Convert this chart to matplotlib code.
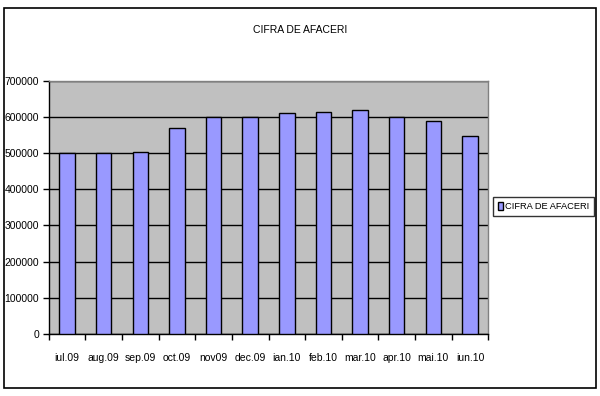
import matplotlib
matplotlib.use("Agg")
import matplotlib.pyplot as plt
import matplotlib.patches as mpatches

plt.rcParams['font.family'] = ['Liberation Sans', 'DejaVu Sans']

months = ["iul.09", "aug.09", "sep.09", "oct.09", "nov09", "dec.09",
          "ian.10", "feb.10", "mar.10", "apr.10", "mai.10", "iun.10"]
cifra = [500000, 500000, 503000, 570000, 600000, 600000,
         611000, 614000, 619000, 600000, 589000, 548000]
yticks = [0, 100000, 200000, 300000, 400000, 500000, 600000, 700000]

fig = plt.figure(figsize=(6, 3.96), dpi=100)
fig.patch.set_facecolor("white")

# outer chart border
fig.patches.append(mpatches.Rectangle((3.5 / 600, 1 - 388 / 396), 592 / 600, 380 / 396,
                                      transform=fig.transFigure, fill=False,
                                      edgecolor="black", linewidth=1.2))

ax = fig.add_axes([0.0812, 0.1566, 0.7326, 0.6396])
ax.set_facecolor("#C0C0C0")

x = list(range(len(months)))
bars = ax.bar(x, cifra, width=0.42, color="#9999FF", edgecolor="black",
              linewidth=1.0, zorder=3, label="CIFRA DE AFACERI")

ax.set_xlim(-0.5, len(months) - 0.5)
ax.set_ylim(0, 700000)
ax.set_yticks(yticks)
ax.set_yticklabels([str(v) for v in yticks])
ax.yaxis.grid(True, color="black", linewidth=1.0, zorder=1)
ax.set_axisbelow(True)

# category boundaries as major ticks, labels on minor ticks
ax.set_xticks([i - 0.5 for i in range(len(months) + 1)])
ax.set_xticklabels([])
ax.set_xticks(x, minor=True)
ax.set_xticklabels(months, minor=True)
ax.tick_params(axis="x", which="major", direction="out", length=4, width=1, color="black")
ax.tick_params(axis="x", which="minor", length=0, pad=14, labelsize=7.5)
ax.tick_params(axis="y", direction="out", length=4, width=1, labelsize=7.5, pad=3)

for s in ["top", "right"]:
    ax.spines[s].set_color("#808080")
    ax.spines[s].set_linewidth(1.0)
for s in ["left", "bottom"]:
    ax.spines[s].set_color("black")
    ax.spines[s].set_linewidth(1.0)

fig.text(0.5, 1 - 30 / 396, "CIFRA DE AFACERI", ha="center", va="center", fontsize=7.5)

leg = fig.legend(handles=[bars], loc="center", bbox_to_anchor=(543.5 / 600, 1 - 206.5 / 396),
                 fontsize=6.7, frameon=True, fancybox=False, handlelength=0.6,
                 handleheight=1.0, handletextpad=0.15, borderpad=0.55, borderaxespad=0)
leg.get_frame().set_edgecolor("black")
leg.get_frame().set_linewidth(1.0)

fig.savefig("out.png", dpi=100)
